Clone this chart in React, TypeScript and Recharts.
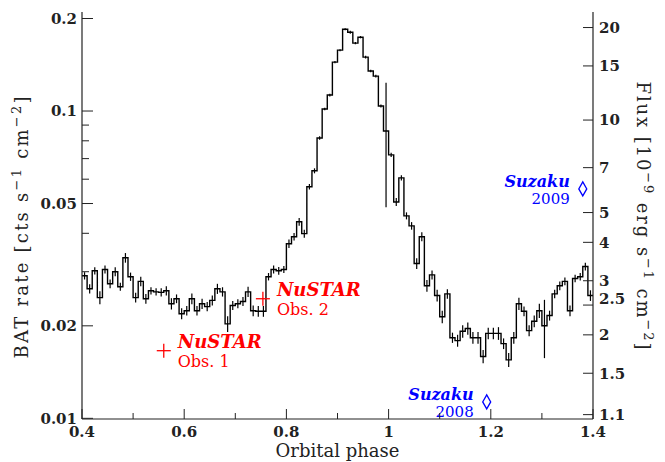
import React from 'react';
import { ComposedChart, Line, Scatter, XAxis, YAxis, ErrorBar } from 'recharts';

// BAT light curve, 100 bins of 0.01 in orbital phase starting at 0.4
const binStart = 0.4;
const binWidth = 0.01;

const batRate = [
  0.0291, 0.0264, 0.0302, 0.0247, 0.0305, 0.0274, 0.03, 0.0268, 0.0333, 0.0289,
  0.0247, 0.0279, 0.0245, 0.026, 0.0258, 0.0257, 0.026, 0.0236, 0.0245, 0.0219,
  0.0224, 0.0245, 0.0224, 0.0236, 0.0231, 0.0242, 0.0264, 0.0258, 0.0203, 0.0233,
  0.0236, 0.024, 0.0258, 0.0224, 0.0223, 0.0223, 0.0289, 0.0305, 0.0302, 0.0305,
  0.037, 0.039, 0.0436, 0.0399, 0.0567, 0.0639, 0.0817, 0.1015, 0.1127, 0.1443,
  0.1578, 0.1845, 0.1805, 0.1663, 0.1739, 0.1497, 0.1349, 0.1299, 0.1038, 0.0861,
  0.072, 0.0506, 0.0606, 0.0456, 0.0423, 0.0319, 0.039, 0.027, 0.0293, 0.0251,
  0.0214, 0.0254, 0.0183, 0.0179, 0.0192, 0.0196, 0.0183, 0.0183, 0.0159, 0.0189,
  0.0189, 0.0189, 0.0175, 0.0155, 0.0183, 0.0236, 0.0223, 0.0193, 0.0207, 0.0224,
  0.02, 0.0216, 0.0254, 0.027, 0.0279, 0.0224, 0.0285, 0.0289, 0.0312, 0.0251,
];

const batErr = [
  0.0008, 0.0009, 0.0008, 0.0012, 0.0009, 0.0009, 0.001, 0.0008, 0.0012, 0.0009,
  0.0009, 0.001, 0.0009, 0.0007, 0.0007, 0.0008, 0.0009, 0.001, 0.0008, 0.0009,
  0.0008, 0.001, 0.0008, 0.0009, 0.0008, 0.0009, 0.001, 0.0009, 0.0012, 0.0008,
  0.0008, 0.0008, 0.001, 0.0009, 0.0009, 0.0009, 0.0008, 0.0009, 0.0009, 0.0008,
  0.0012, 0.0011, 0.0013, 0.0012, 0.0012, 0.0012, 0.001, 0.001, 0.0012, 0.0012,
  0.0012, 0.0015, 0.002, 0.0015, 0.0015, 0.0015, 0.0013, 0.0013, 0.0012, 0.0375,
  0.0012, 0.0015, 0.0012, 0.0012, 0.0012, 0.0013, 0.0013, 0.0012, 0.001, 0.0011,
  0.001, 0.0009, 0.0007, 0.0008, 0.0009, 0.0009, 0.0008, 0.0008, 0.0008, 0.0008,
  0.0008, 0.0009, 0.0007, 0.0008, 0.0008, 0.0011, 0.0008, 0.0008, 0.0009, 0.0012,
  0.0043, 0.0008, 0.0008, 0.0009, 0.0008, 0.0009, 0.0008, 0.0008, 0.0009, 0.001,
];

const nustarPhase = [0.56, 0.754];
const nustarRate = [0.0166, 0.0245];
const nustarObs = ['Obs. 1', 'Obs. 2'];

const suzakuPhase = [1.192, 1.38];
const suzakuFlux = [1.21, 5.97];
const suzakuYear = ['2008', '2009'];

const phaseTicks = [0.4, 0.5, 0.6, 0.7, 0.8, 0.9, 1, 1.1, 1.2, 1.3, 1.4];
const rateTicks = [0.01, 0.02, 0.03, 0.04, 0.05, 0.06, 0.07, 0.08, 0.09, 0.1, 0.2];
const rateLabelled = [0.01, 0.02, 0.05, 0.1, 0.2];
const fluxTicks = [1.1, 1.5, 2, 2.5, 3, 4, 5, 7, 10, 15, 20];

const fluxPerRate = 107;
const rateDomain = [0.00995, 0.21];
const fluxDomain = [rateDomain[0] * fluxPerRate, rateDomain[1] * fluxPerRate];

const SERIF = '"DejaVu Serif", serif';
const INK = '#222';

const centre = (i: number) => Math.round((binStart + binWidth * (i + 0.5)) * 1000) / 1000;
const lastEdge = Math.round((binStart + binWidth * batRate.length) * 1000) / 1000;

const stepData = [
  { phase: binStart, rate: batRate[0] },
  ...batRate.map((r, i) => ({ phase: centre(i), rate: r })),
  { phase: lastEdge, rate: batRate[batRate.length - 1] },
];
const errData = batRate.map((r, i) => ({ phase: centre(i), rate: r, err: batErr[i] }));
const nustarData = nustarPhase.map((p, i) => ({ phase: p, rate: nustarRate[i], obs: nustarObs[i] }));
const suzakuData = suzakuPhase.map((p, i) => ({ phase: p, flux: suzakuFlux[i], year: suzakuYear[i] }));

const tickText = { fontFamily: SERIF, fontWeight: 'bold' as const, fontSize: 15, fill: INK };

function BottomTick(props: any) {
  const { x, y, payload } = props;
  const v = payload.value;
  const major = Math.round(v * 10) % 2 === 0;
  const axisY = y - 7;
  return (
    <g>
      <line x1={x} x2={x} y1={axisY} y2={axisY - (major ? 10 : 6)} stroke={INK} />
      {major && (
        <text x={x} y={y} dy="0.71em" textAnchor="middle" {...tickText}>
          {String(v)}
        </text>
      )}
    </g>
  );
}

function TopTick(props: any) {
  const { x, y, payload } = props;
  const major = Math.round(payload.value * 10) % 2 === 0;
  return <line x1={x} x2={x} y1={y} y2={y + (major ? 10 : 6)} stroke={INK} />;
}

function LeftTick(props: any) {
  const { x, y, payload } = props;
  const v = payload.value;
  const major = rateLabelled.includes(v);
  const axisX = x + 5;
  return (
    <g>
      <line x1={axisX} x2={axisX + (major ? 11 : 7)} y1={y} y2={y} stroke={INK} />
      {major && (
        <text x={x} y={y} dy="0.36em" textAnchor="end" {...tickText}>
          {String(v)}
        </text>
      )}
    </g>
  );
}

function RightTick(props: any) {
  const { x, y, payload } = props;
  const v = payload.value;
  const axisX = x - 6;
  const shift = v === 2.5 ? -6 : 0;
  return (
    <g>
      <line x1={axisX} x2={axisX - 10} y1={y} y2={y} stroke={INK} />
      <text x={x} y={y + shift} dy="0.36em" textAnchor="start" {...tickText}>
        {String(v)}
      </text>
    </g>
  );
}

const titleText = { fontFamily: SERIF, fontSize: 18, fill: INK };

function LeftTitle(props: any) {
  const vb = props.viewBox || { y: 12, height: 406 };
  const cy = vb.y + vb.height / 2 + 12;
  return (
    <text
      transform={`translate(28, ${cy}) rotate(-90)`}
      textAnchor="middle"
      textLength={262}
      lengthAdjust="spacing"
      {...titleText}
    >
      BAT rate [cts s<tspan dy={-7} fontSize={13}>−1</tspan>
      <tspan dy={7}> cm</tspan>
      <tspan dy={-7} fontSize={13}>−2</tspan>
      <tspan dy={7}>]</tspan>
    </text>
  );
}

function RightTitle(props: any) {
  const vb = props.viewBox || { y: 12, height: 406 };
  const cy = vb.y + vb.height / 2;
  return (
    <text
      transform={`translate(637, ${cy}) rotate(90)`}
      textAnchor="middle"
      textLength={268}
      lengthAdjust="spacing"
      {...titleText}
    >
      Flux [10<tspan dy={-7} fontSize={13}>−9</tspan>
      <tspan dy={7}> erg s</tspan>
      <tspan dy={-7} fontSize={13}>−1</tspan>
      <tspan dy={7}> cm</tspan>
      <tspan dy={-7} fontSize={13}>−2</tspan>
      <tspan dy={7}>]</tspan>
    </text>
  );
}

function BottomTitle(props: any) {
  const vb = props.viewBox || { x: 82, width: 511 };
  return (
    <text x={vb.x + vb.width / 2} y={457} textAnchor="middle" {...titleText}>
      Orbital phase
    </text>
  );
}

function NustarMark(props: any) {
  const { cx, cy, payload } = props;
  const red = '#ff0000';
  return (
    <g>
      <line x1={cx - 7} x2={cx + 7} y1={cy} y2={cy} stroke={red} strokeWidth={1.3} />
      <line x1={cx} x2={cx} y1={cy - 7} y2={cy + 7} stroke={red} strokeWidth={1.3} />
      <text x={cx + 14} y={cy - 3} fill={red} fontFamily={SERIF} fontSize={18} fontWeight="bold" fontStyle="italic">
        NuSTAR
      </text>
      <text x={cx + 14} y={cy + 16} fill={red} fontFamily={SERIF} fontSize={16}>
        {payload.obs}
      </text>
    </g>
  );
}

function SuzakuMark(props: any) {
  const { cx, cy, payload } = props;
  const blue = '#0000ff';
  return (
    <g>
      <path d={`M${cx},${cy - 7} L${cx + 4},${cy} L${cx},${cy + 7} L${cx - 4},${cy} Z`} fill="none" stroke={blue} strokeWidth={1.3} />
      <text x={cx - 13} y={cy - 2} textAnchor="end" fill={blue} fontFamily={SERIF} fontSize={16} fontWeight="bold" fontStyle="italic">
        Suzaku
      </text>
      <text x={cx - 13} y={cy + 15} textAnchor="end" fill={blue} fontFamily={SERIF} fontSize={15}>
        {payload.year}
      </text>
    </g>
  );
}

export default function App() {
  return (
    <div style={{ position: 'absolute', left: 0, top: 0, background: '#fff' }}>
      <ComposedChart width={665} height={462} margin={{ top: 12, right: 0, bottom: 0, left: 0 }}>
        <XAxis
          xAxisId="b"
          dataKey="phase"
          type="number"
          domain={[0.4, 1.4]}
          allowDataOverflow
          ticks={phaseTicks}
          interval={0}
          height={43}
          tickSize={0}
          tickMargin={7}
          tickLine={false}
          tick={<BottomTick />}
          axisLine={{ stroke: INK, strokeWidth: 1.2 }}
          label={<BottomTitle />}
        />
        <XAxis
          xAxisId="t"
          orientation="top"
          dataKey="phase"
          type="number"
          domain={[0.4, 1.4]}
          allowDataOverflow
          ticks={phaseTicks}
          interval={0}
          height={0}
          tickSize={0}
          tickMargin={0}
          tickLine={false}
          tick={<TopTick />}
          axisLine={{ stroke: INK, strokeWidth: 1.2 }}
        />
        <YAxis
          yAxisId="rate"
          dataKey="rate"
          scale="log"
          type="number"
          domain={rateDomain}
          allowDataOverflow
          ticks={rateTicks}
          interval={0}
          width={82}
          tickSize={0}
          tickMargin={5}
          tickLine={false}
          tick={<LeftTick />}
          axisLine={{ stroke: INK, strokeWidth: 1.2 }}
          label={<LeftTitle />}
        />
        <YAxis
          yAxisId="flux"
          orientation="right"
          dataKey="flux"
          scale="log"
          type="number"
          domain={fluxDomain}
          allowDataOverflow
          ticks={fluxTicks}
          interval={0}
          width={72}
          tickSize={0}
          tickMargin={6}
          tickLine={false}
          tick={<RightTick />}
          axisLine={{ stroke: INK, strokeWidth: 1.2 }}
          label={<RightTitle />}
        />
        <Line
          xAxisId="b"
          yAxisId="rate"
          data={stepData}
          dataKey="rate"
          type="step"
          stroke="#000"
          strokeWidth={1.4}
          dot={false}
          isAnimationActive={false}
        />
        <Line
          xAxisId="b"
          yAxisId="rate"
          data={errData}
          dataKey="rate"
          stroke="none"
          dot={false}
          activeDot={false}
          isAnimationActive={false}
        >
          <ErrorBar dataKey="err" width={0} stroke="#000" strokeWidth={1.2} direction="y" isAnimationActive={false} />
        </Line>
        <Scatter
          xAxisId="b"
          yAxisId="rate"
          data={nustarData}
          shape={<NustarMark />}
          isAnimationActive={false}
        />
        <Scatter
          xAxisId="b"
          yAxisId="flux"
          data={suzakuData}
          shape={<SuzakuMark />}
          isAnimationActive={false}
        />
      </ComposedChart>
    </div>
  );
}
